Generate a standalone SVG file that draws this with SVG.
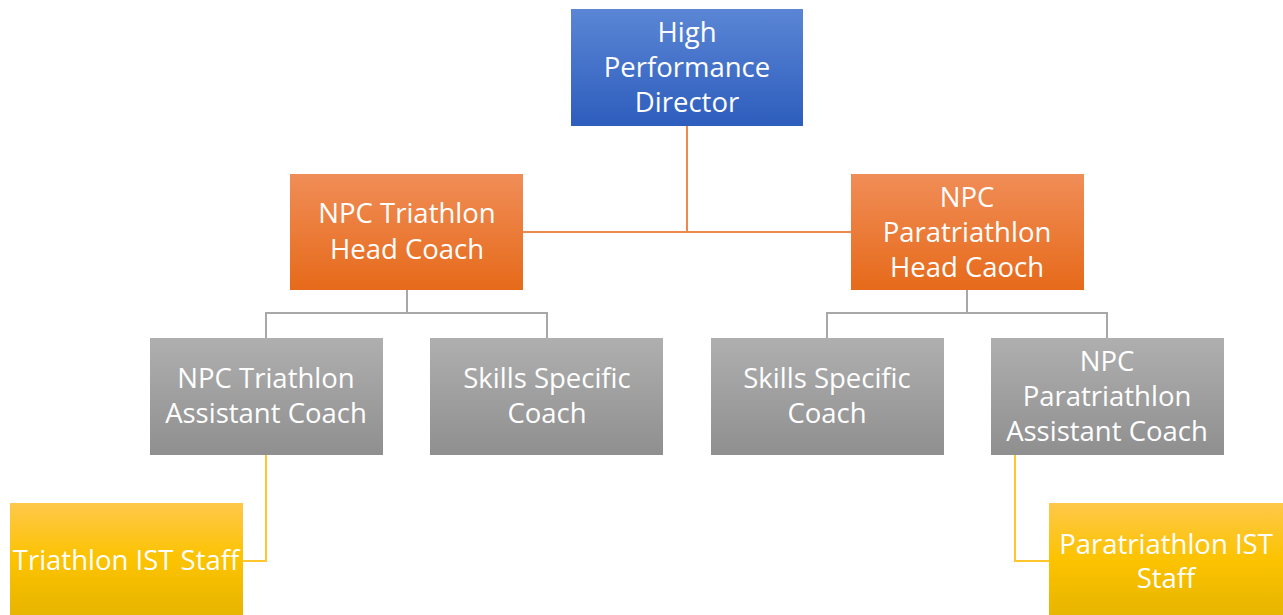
<svg xmlns="http://www.w3.org/2000/svg" width="1283" height="615" viewBox="0 0 1283 615">
<defs>
<linearGradient id="gBlue" x1="0" y1="0" x2="0" y2="1"><stop offset="0" stop-color="#5B86D5"/><stop offset="1" stop-color="#2D5DBD"/></linearGradient>
<linearGradient id="gOrange" x1="0" y1="0" x2="0" y2="1"><stop offset="0" stop-color="#F08D57"/><stop offset="1" stop-color="#E66A1A"/></linearGradient>
<linearGradient id="gGray" x1="0" y1="0" x2="0" y2="1"><stop offset="0" stop-color="#AFAFAF"/><stop offset="1" stop-color="#8F8F8F"/></linearGradient>
<linearGradient id="gYellow" x1="0" y1="0" x2="0" y2="1"><stop offset="0" stop-color="#FEC84A"/><stop offset="0.5" stop-color="#FCC300"/><stop offset="1" stop-color="#E7B500"/></linearGradient>
</defs>
<style>
text{font-family:"Open Sans","Liberation Sans",sans-serif;font-size:27.5px;fill:#fff;text-anchor:middle}
.c{fill:none;stroke-width:2}
.co{stroke:#EF8A4E}
.cg{stroke:#A8A8A8}
.cy{stroke:#FFC62E}
</style>
<rect width="1283" height="615" fill="#fff"/>
<g id="connectors">
<polyline class="c co" points="687,126 687,232"/>
<polyline class="c co" points="523,232 851,232"/>
<polyline class="c cg" points="407,290 407,313"/>
<polyline class="c cg" points="266,338 266,313 547,313 547,338"/>
<polyline class="c cg" points="967,290 967,313"/>
<polyline class="c cg" points="827,338 827,313 1107,313 1107,338"/>
<polyline class="c cy" points="266,455 266,561 243,561"/>
<polyline class="c cy" points="1015,455 1015,561 1049,561"/>
</g>
<g id="hpd"><rect x="571" y="9" width="232" height="117" fill="url(#gBlue)"/><text x="687" y="42">High</text><text x="687" y="77">Performance</text><text x="687" y="112">Director</text></g>
<g id="tri-head"><rect x="290" y="174" width="233" height="116" fill="url(#gOrange)"/><text x="407" y="223">NPC Triathlon</text><text x="407" y="259">Head Coach</text></g>
<g id="para-head"><rect x="851" y="174" width="233" height="116" fill="url(#gOrange)"/><text x="967" y="207">NPC</text><text x="967" y="242">Paratriathlon</text><text x="967" y="277">Head Caoch</text></g>
<g id="tri-asst"><rect x="150" y="338" width="233" height="117" fill="url(#gGray)"/><text x="266" y="388">NPC Triathlon</text><text x="266" y="423">Assistant Coach</text></g>
<g id="skills-1"><rect x="430" y="338" width="233" height="117" fill="url(#gGray)"/><text x="547" y="388">Skills Specific</text><text x="547" y="423">Coach</text></g>
<g id="skills-2"><rect x="711" y="338" width="233" height="117" fill="url(#gGray)"/><text x="827" y="388">Skills Specific</text><text x="827" y="423">Coach</text></g>
<g id="para-asst"><rect x="991" y="338" width="233" height="117" fill="url(#gGray)"/><text x="1107" y="371">NPC</text><text x="1107" y="406">Paratriathlon</text><text x="1107" y="441">Assistant Coach</text></g>
<g id="tri-ist"><rect x="10" y="503" width="233" height="112" fill="url(#gYellow)"/><text x="126" y="570">Triathlon IST Staff</text></g>
<g id="para-ist"><rect x="1049" y="503" width="234" height="112" fill="url(#gYellow)"/><text x="1166" y="554">Paratriathlon IST</text><text x="1166" y="588">Staff</text></g>
</svg>
